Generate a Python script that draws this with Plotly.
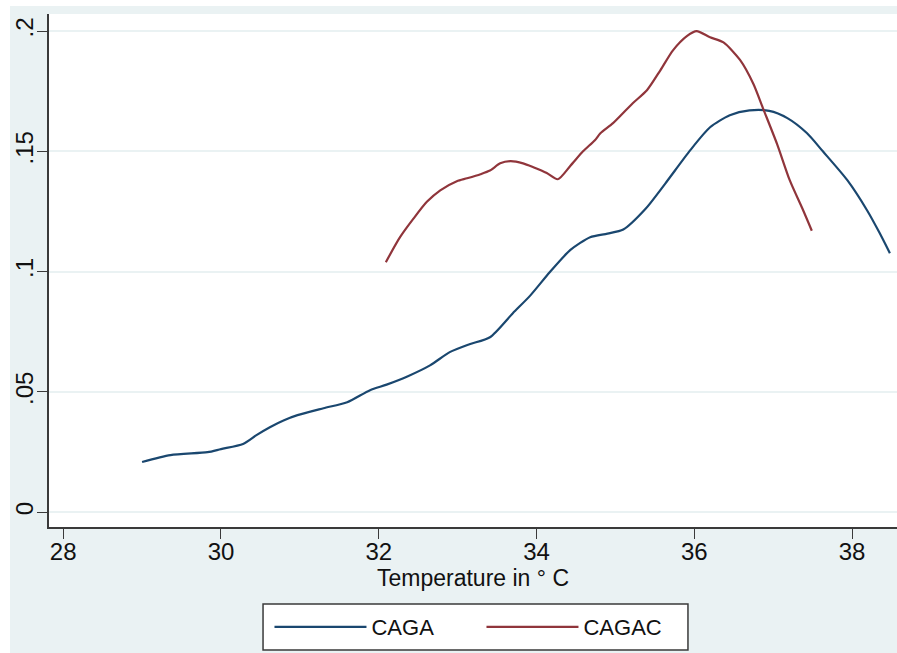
import plotly.graph_objects as go

# ---- data ----
caga_temp = [29.0, 29.36, 29.83, 30.0, 30.28, 30.45, 30.62, 30.8, 30.97, 31.3, 31.6, 31.89,
             32.1, 32.37, 32.65, 32.9, 33.15, 33.41, 33.7, 33.92, 34.17, 34.43, 34.68, 34.9,
             35.1, 35.38, 35.63, 35.95, 36.2, 36.45, 36.7, 36.95, 37.18, 37.43, 37.63,
             37.94, 38.19, 38.35, 38.48]
caga_dens = [0.0208, 0.0237, 0.0249, 0.0262, 0.0283, 0.0320, 0.0353, 0.0382, 0.0403, 0.0432,
             0.0457, 0.0507, 0.0530, 0.0565, 0.0610, 0.0665, 0.0698, 0.0727, 0.0827, 0.0900,
             0.0998, 0.1090, 0.1143, 0.1158, 0.1175, 0.1260, 0.1365, 0.1505, 0.1600, 0.1650,
             0.1670, 0.1668, 0.1638, 0.1575, 0.1500, 0.1380, 0.1255, 0.1160, 0.1076]

cagac_temp = [32.09, 32.27, 32.44, 32.61, 32.78, 32.99, 33.12, 33.29, 33.41, 33.54, 33.67,
              33.83, 33.96, 34.13, 34.27, 34.43, 34.59, 34.74, 34.81, 34.97, 35.22, 35.40,
              35.57, 35.73, 35.91, 36.03, 36.20, 36.37, 36.58, 36.75, 36.87, 37.05, 37.21,
              37.38, 37.49]
cagac_dens = [0.1039, 0.1143, 0.1220, 0.1290, 0.1338, 0.1376, 0.1388, 0.1405, 0.1420, 0.1450,
              0.1459, 0.1450, 0.1434, 0.1410, 0.1384, 0.1440, 0.1500, 0.1546, 0.1575, 0.1617,
              0.1700, 0.1754, 0.1837, 0.1920, 0.1980, 0.2000, 0.1974, 0.1953, 0.1880, 0.1780,
              0.1680, 0.1530, 0.1380, 0.1255, 0.1170]

x_ticks = [28, 30, 32, 34, 36, 38]
y_ticks = [0, 0.05, 0.1, 0.15, 0.2]
y_tick_labels = ["0", ".05", ".1", ".15", ".2"]

BG = "#EAF2F3"
AX = "#3a3a3a"
FONT = "Liberation Sans, Arial, Helvetica, sans-serif"

fig = go.Figure()
fig.add_trace(go.Scatter(x=caga_temp, y=caga_dens, mode="lines", name="CAGA",
                         line=dict(color="#1a476f", width=2.2, shape="spline", smoothing=0.7)))
fig.add_trace(go.Scatter(x=cagac_temp, y=cagac_dens, mode="lines", name="CAGAC",
                         line=dict(color="#90353b", width=2.2, shape="spline", smoothing=0.7)))

fig.update_layout(
    width=897, height=653, autosize=False,
    margin=dict(l=49, r=0, t=14, b=126),
    paper_bgcolor=BG, plot_bgcolor="white",
    font=dict(family=FONT, size=23, color="#111"),
    showlegend=True,
    legend=dict(orientation="h", x=0.26, xanchor="left", y=-0.195, yanchor="middle",
                bgcolor="rgba(0,0,0,0)", borderwidth=0,
                itemwidth=92, entrywidth=105,
                font=dict(size=22, family=FONT, color="#111")),
    shapes=[
        # white page strips at the left and top edges
        dict(type="rect", xref="paper", yref="paper", x0=-0.06, x1=-0.046, y0=-0.26, y1=1.03,
             fillcolor="white", line=dict(width=0), layer="above"),
        dict(type="rect", xref="paper", yref="paper", x0=-0.06, x1=1.01, y0=1.0156, y1=1.03,
             fillcolor="white", line=dict(width=0), layer="above"),
        # legend frame
        dict(type="rect", xref="paper", yref="paper", x0=0.2524, x1=0.7535, y0=-0.2398,
             y1=-0.1501, fillcolor="white", line=dict(color=AX, width=1.5), layer="above"),
    ],
)

fig.update_xaxes(range=[27.82, 38.57], tickvals=x_ticks, ticks="outside", ticklen=10,
                 tickwidth=1.2, tickcolor=AX, showline=True, linecolor=AX, linewidth=1.5,
                 showgrid=False, zeroline=False, tickfont=dict(size=24),
                 ticklabelstandoff=-8,
                 title=dict(text="Temperature in ° C", standoff=2, font=dict(size=23)))
fig.update_yaxes(range=[-0.0062, 0.2071], tickvals=y_ticks, ticktext=y_tick_labels,
                 tickangle=-90, ticks="outside", ticklen=10, tickwidth=1.2, tickcolor=AX,
                 showline=True, linecolor=AX, linewidth=1.5, showgrid=True,
                 gridcolor=BG, gridwidth=1.5, zeroline=False, tickfont=dict(size=24),
                 ticklabelstandoff=-5)

fig.write_html("out.html", config={"displayModeBar": False},
               post_script="document.body.style.margin='0';document.body.style.overflow='hidden';")
